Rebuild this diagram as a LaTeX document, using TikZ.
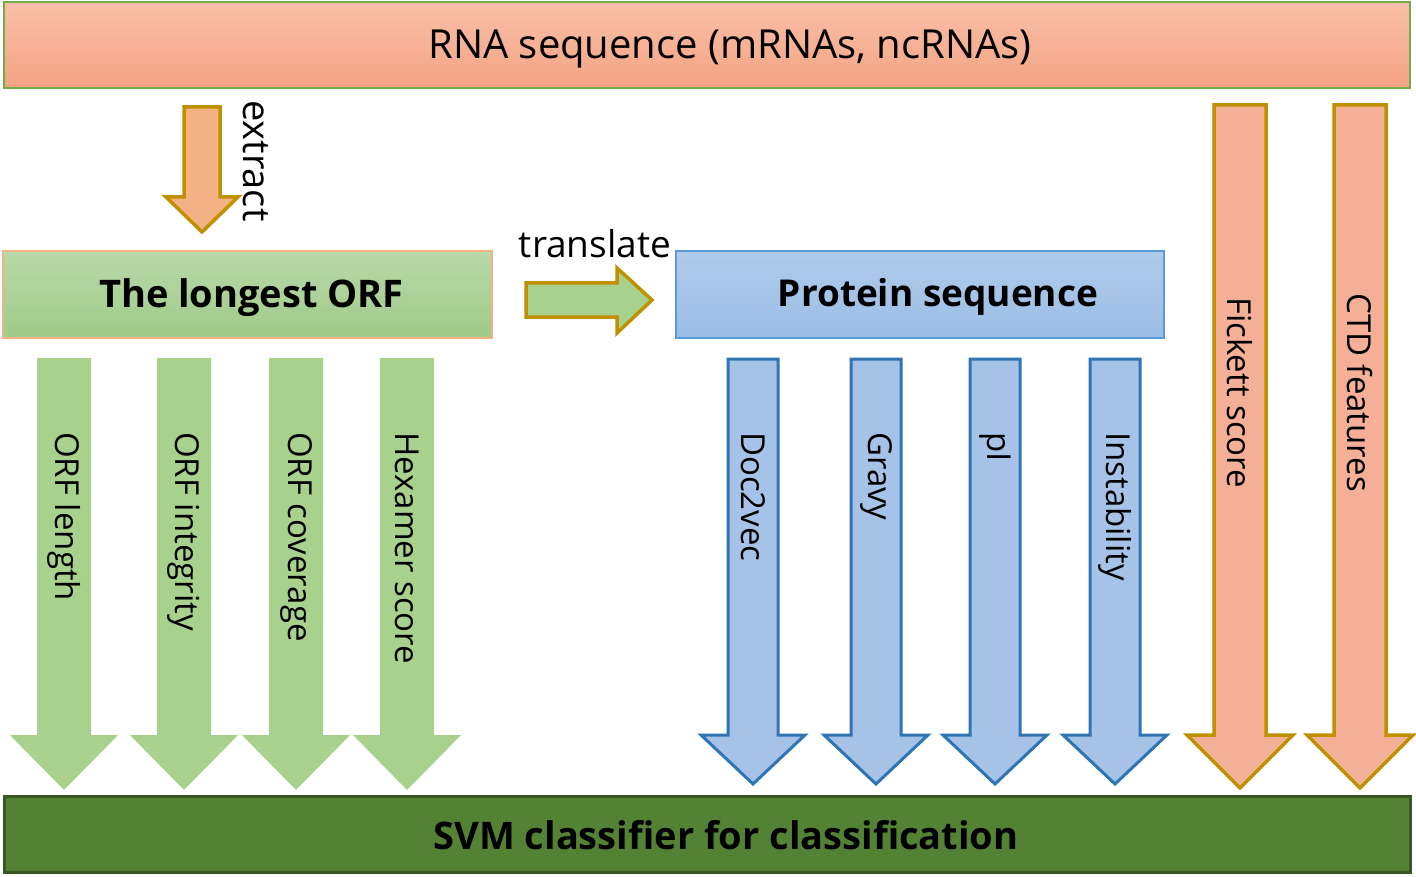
\documentclass[tikz,border=0pt]{standalone}
\usepackage{fontspec}
\setmainfont{Open Sans}
\usetikzlibrary{positioning}

\definecolor{rnatop}{HTML}{F8BFA8}
\definecolor{rnabot}{HTML}{F4A383}
\definecolor{rnaline}{HTML}{71AD47}
\definecolor{orftop}{HTML}{B8D8A9}
\definecolor{orfbot}{HTML}{A0CB88}
\definecolor{orfline}{HTML}{F4B183}
\definecolor{prottop}{HTML}{B0CBEA}
\definecolor{protbot}{HTML}{9BBDE5}
\definecolor{protline}{HTML}{5B9BD5}
\definecolor{svmfill}{HTML}{548235}
\definecolor{svmline}{HTML}{385723}
\definecolor{featgreen}{HTML}{A9D18E}
\definecolor{featblue}{HTML}{A6C2E6}
\definecolor{featblueline}{HTML}{2E75B6}
\definecolor{featorange}{HTML}{F4B096}
\definecolor{extractfill}{HTML}{F4B183}
\definecolor{goldline}{HTML}{BF9000}

% block arrow pointing down: style, x, top, head base, tip, shaft half width, head half width
\newcommand{\blockdown}[7]{%
  \draw[#1] (#2-#6,#3) -- (#2+#6,#3) -- (#2+#6,#4) -- (#2+#7,#4) -- (#2,#5)
    -- (#2-#7,#4) -- (#2-#6,#4) -- cycle;}

\begin{document}
\begin{tikzpicture}[x=1pt, y=-1pt,
  box/.style={draw, line width=1.5pt, inner sep=0pt},
  title/.style={font=\fontsize{38}{45}\bfseries\selectfont, inner sep=0pt},
  lbl/.style={rotate=-90, anchor=west, inner sep=0pt, font=\fontsize{33}{40}\selectfont},
  verb/.style={inner sep=0pt, font=\fontsize{37}{44}\selectfont},
  greenarrow/.style={fill=featgreen, draw=none},
  bluearrow/.style={fill=featblue, draw=featblueline, line width=3pt, line join=miter},
  orangearrow/.style={fill=featorange, draw=goldline, line width=3.5pt, line join=miter}]

  \useasboundingbox (0,0) rectangle (1416,877);

  % boxes
  \node[box, draw=rnaline, top color=rnatop, bottom color=rnabot,
        minimum width=1406pt, minimum height=86pt] (rna) at (707,45) {};
  \node[title, font=\fontsize{40}{48}\selectfont] (rnatext) at ([xshift=23pt, yshift=-4pt]rna.center) {RNA sequence (mRNAs, ncRNAs)};

  \node[box, draw=orfline, top color=orftop, bottom color=orfbot,
        minimum width=489pt, minimum height=87pt] (orf) at (247.5,294.5) {};
  \node[title] (orftext) at ([xshift=4pt, yshift=-3pt]orf.center) {The longest ORF};

  \node[box, draw=protline, top color=prottop, bottom color=protbot,
        minimum width=488pt, minimum height=87pt] (prot) at (920,294.5) {};
  \node[title, font=\fontsize{37}{44}\bfseries\selectfont] (prottext) at ([xshift=18pt, yshift=-2pt]prot.center) {Protein sequence};

  \node[box, draw=svmline, fill=svmfill, line width=3pt,
        minimum width=1406pt, minimum height=76pt] (svm) at (707,834) {};
  \node[title] (svmtext) at ([xshift=19pt, yshift=-1pt]svm.center) {SVM classifier for classification};

  % extract / translate
  \blockdown{orangearrow, fill=extractfill}{202}{107}{197}{232}{18}{36}
  \node[verb, font=\fontsize{38}{45}\selectfont, rotate=-90, anchor=west] (extract) at (256,100) {extract};

  \draw[orangearrow, fill=featgreen] (526,283) -- (617,283) -- (617,268) -- (652,300)
    -- (617,333) -- (617,317) -- (526,317) -- cycle;
  \node[verb] (translate) at (595,244) {translate};

  % ORF features
  \foreach \x/\name/\txt in {64/len/ORF length, 184/integ/ORF integrity,
                             296/cover/ORF coverage, 407/hexa/Hexamer score} {
    \blockdown{greenarrow}{\x}{358}{735}{790}{27}{54}
    \node[lbl] (\name) at (\x,432) {\txt};
  }

  % protein features
  \foreach \x/\name/\txt in {753/doc/Doc2vec, 876/gravy/Gravy,
                             995/pi/pI, 1115/instab/Instability} {
    \blockdown{bluearrow}{\x}{359}{735}{784}{25}{52}
    \node[lbl] (\name) at (\x,432) {\txt};
  }

  % RNA features
  \blockdown{orangearrow}{1240}{105}{735}{788}{26}{53}
  \node[lbl] (fickett) at (1240,297) {Fickett score};
  \blockdown{orangearrow}{1360}{105}{735}{788}{26}{53}
  \node[lbl] (ctd) at (1360,293) {CTD features};
\end{tikzpicture}
\end{document}
